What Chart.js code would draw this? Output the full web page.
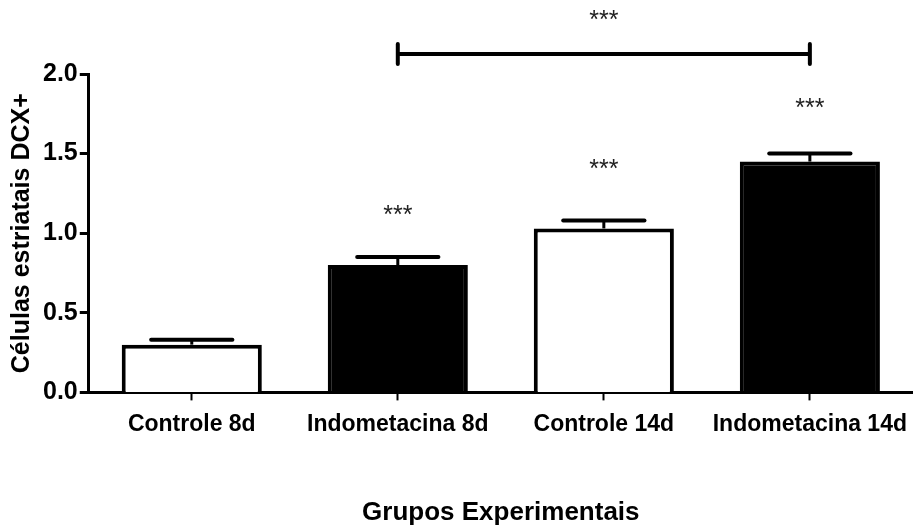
<!DOCTYPE html>
<html>
<head>
<meta charset="utf-8">
<script src="https://cdn.jsdelivr.net/npm/chart.js@4.4.0/dist/chart.umd.min.js"></script>
<style>
    body { margin: 0; background: #fff; }
    #chart { display: block; }
</style>
</head>
<body>
<canvas id="chart" width="917" height="526"></canvas>
<script>
const categories = ['Controle 8d', 'Indometacina 8d', 'Controle 14d', 'Indometacina 14d'];
const means = [0.30, 0.80, 1.03, 1.45];
const sem = [0.03, 0.05, 0.05, 0.05];
const fillColors = ['#ffffff', '#000000', '#ffffff', '#000000'];
const starLabels = ['', '***', '***', '***'];
const starLevels = [null, 1.14, 1.43, 1.81];
const yTicks = [0, 0.5, 1.0, 1.5, 2.0];
// bracket between Indometacina 8d and Indometacina 14d
const bracketFrom = 1;
const bracketTo = 3;
const bracketLevel = 2.125;
const bracketStarLevel = 2.35;

const FONT = 'Arial, "Liberation Sans", sans-serif';

const errorBars = {
    id: 'errorBars',
    afterDatasetsDraw(chart) {
        const ctx = chart.ctx;
        const x = chart.scales.x;
        const y = chart.scales.y;
        const meta = chart.getDatasetMeta(0);
        ctx.save();
        ctx.strokeStyle = '#000';
        meta.data.forEach((bar, i) => {
            const cx = bar.x;
            const half = bar.width * 0.29;
            const top = y.getPixelForValue(means[i] + sem[i]);
            ctx.lineWidth = 3;
            ctx.beginPath();
            ctx.moveTo(cx, bar.y);
            ctx.lineTo(cx, top);
            ctx.stroke();
            ctx.lineWidth = 4;
            ctx.lineCap = 'round';
            ctx.beginPath();
            ctx.moveTo(cx - half, top);
            ctx.lineTo(cx + half, top);
            ctx.stroke();
            ctx.lineCap = 'butt';
            if (starLabels[i]) {
                ctx.font = '25px ' + FONT;
                ctx.textAlign = 'center';
                ctx.textBaseline = 'middle';
                ctx.fillStyle = '#222';
                ctx.fillText(starLabels[i], cx, y.getPixelForValue(starLevels[i]) + 5);
            }
        });

        // significance bracket
        const x1 = x.getPixelForValue(bracketFrom);
        const x2 = x.getPixelForValue(bracketTo);
        const by = y.getPixelForValue(bracketLevel);
        ctx.lineWidth = 4;
        ctx.beginPath();
        ctx.moveTo(x1, by);
        ctx.lineTo(x2, by);
        ctx.stroke();
        ctx.lineCap = 'round';
        [x1, x2].forEach(px => {
            ctx.beginPath();
            ctx.moveTo(px, by - 10);
            ctx.lineTo(px, by + 10);
            ctx.stroke();
        });
        ctx.font = '25px ' + FONT;
        ctx.textAlign = 'center';
        ctx.textBaseline = 'middle';
        ctx.fillStyle = '#222';
        ctx.fillText('***', (x1 + x2) / 2, y.getPixelForValue(bracketStarLevel) + 3);
        ctx.restore();
    }
};

const ctx = document.getElementById('chart').getContext('2d');
new Chart(ctx, {
    type: 'bar',
    data: {
        labels: categories,
        datasets: [{
            data: means,
            backgroundColor: fillColors,
            borderColor: '#000',
            borderWidth: 4,
            barPercentage: 0.68,
            categoryPercentage: 1.0
        }]
    },
    options: {
        responsive: false,
        animation: false,
        layout: {
            padding: { top: 74, right: 0, left: 10, bottom: 0 }
        },
        plugins: {
            legend: { display: false },
            tooltip: { enabled: false }
        },
        scales: {
            x: {
                offset: true,
                grid: {
                    offset: false,
                    drawOnChartArea: false,
                    drawTicks: true,
                    tickLength: 8,
                    tickWidth: 2,
                    tickColor: '#000'
                },
                border: { color: '#000', width: 3 },
                ticks: {
                    color: '#000',
                    padding: 10,
                    maxRotation: 0,
                    autoSkip: false,
                    font: { family: FONT, size: 23, weight: 'bold' }
                },
                title: {
                    display: true,
                    text: 'Grupos Experimentais',
                    color: '#000',
                    padding: { top: 52, bottom: 0 },
                    font: { family: FONT, size: 26, weight: 'bold', lineHeight: 1.0 }
                }
            },
            y: {
                min: 0,
                max: 2.0,
                afterBuildTicks: axis => {
                    axis.ticks = yTicks.map(v => ({ value: v }));
                },
                grid: {
                    drawOnChartArea: false,
                    drawTicks: true,
                    tickLength: 9,
                    tickWidth: 3,
                    tickColor: '#000'
                },
                border: { color: '#000', width: 3 },
                ticks: {
                    color: '#000',
                    padding: 2,
                    callback: v => Number(v).toFixed(1),
                    font: { family: FONT, size: 25, weight: 'bold' }
                },
                title: {
                    display: true,
                    text: 'Células estriatais DCX+',
                    color: '#000',
                    padding: { top: 0, bottom: 6 },
                    font: { family: FONT, size: 25, weight: 'bold', lineHeight: 1.0 }
                }
            }
        }
    },
    plugins: [errorBars]
});
</script>
</body>
</html>
